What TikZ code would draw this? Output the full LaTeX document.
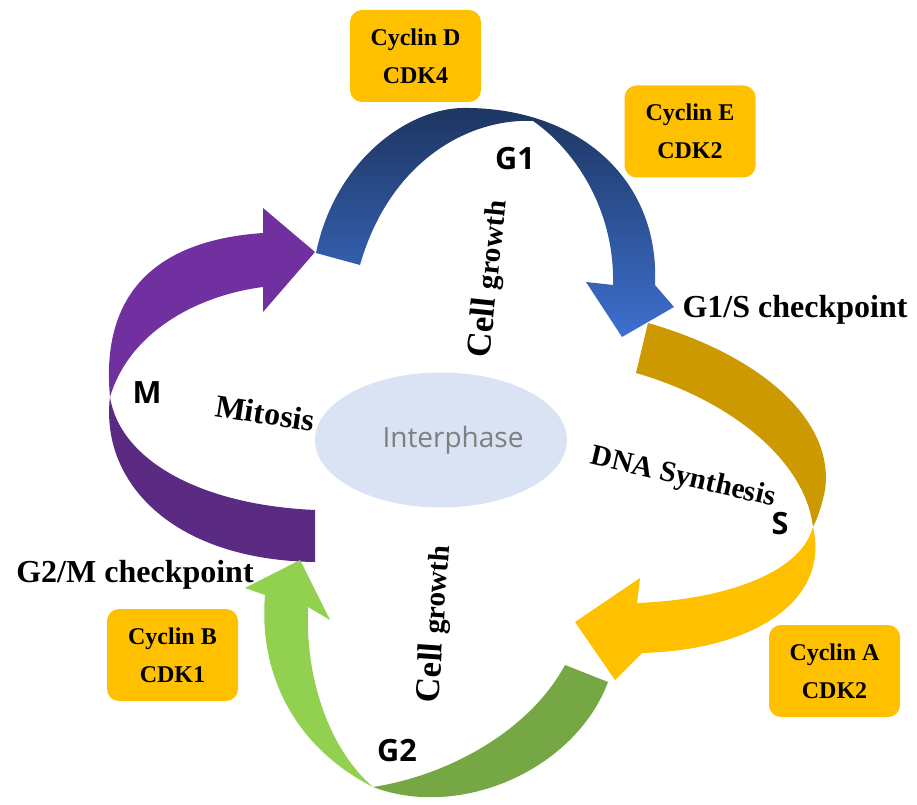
\documentclass[tikz,border=0pt]{standalone}
\usepackage{fontspec}
\setmainfont{Liberation Serif}
\newfontfamily\osans{Open Sans}
\usetikzlibrary{shapes.geometric}
\definecolor{cycfill}{HTML}{FFC000}
\definecolor{purpleA}{HTML}{7030A0}
\definecolor{purpleB}{HTML}{5B2A82}
\definecolor{blueTop}{HTML}{1D3560}
\definecolor{blueBot}{HTML}{3E70CF}
\definecolor{goldA}{HTML}{CC9900}
\definecolor{goldB}{HTML}{FFC000}
\definecolor{greenA}{HTML}{92D050}
\definecolor{greenB}{HTML}{75A844}
\definecolor{ellfill}{HTML}{DAE3F3}
\definecolor{intertext}{HTML}{7F7F7F}
\begin{document}
\begin{tikzpicture}[x=0.75pt,y=-0.75pt,
  cycbox/.style={fill=cycfill, rounded corners=9pt, minimum width=98.25pt, minimum height=69pt, align=center, inner sep=0pt, font=\bfseries\fontsize{18}{28.5}\selectfont},
  phase/.style={font=\osans\bfseries\fontsize{23}{26}\selectfont, inner sep=0pt},
  serlab/.style={font=\bfseries\fontsize{24}{28}\selectfont, inner sep=0pt}]
\useasboundingbox (0,0) rectangle (917,805);
% Interphase ellipse
\node[ellipse, fill=ellfill, minimum width=189pt, minimum height=101.25pt] (ell) at (441,440) {};
\node[font=\osans\fontsize{21}{24}\selectfont, text=intertext, inner sep=0pt] (inter) at (453,440) {Interphase};
% purple M arrow
\fill[purpleA] (110,397) .. controls (100,290) and (160,240) .. (263,233) -- (263,208) -- (315,252) -- (263,312) -- (263,287) .. controls (200,295) and (130,330) .. (110,397) -- cycle;
\fill[purpleB] (110,397) .. controls (120,460) and (200,505) .. (315,510) -- (315,562) .. controls (170,560) and (100,480) .. (110,397) -- cycle;
% blue G1 arrow
\shade[top color=blueTop, bottom color=blueBot] (316,253) .. controls (335,160) and (410,105) .. (470,108) .. controls (580,110) and (660,180) .. (655,285) -- (674,307) -- (622,337) -- (586,282) -- (613,285) .. controls (615,210) and (575,150) .. (533,121) .. controls (470,118) and (390,160) .. (360,265) -- cycle;
% gold S arrow
\fill[goldA] (648,323) .. controls (760,355) and (835,420) .. (825,490) .. controls (822,505) and (818,517) .. (813,527) .. controls (805,460) and (730,400) .. (636,373) -- cycle;
\fill[goldB] (813,527) .. controls (830,600) and (755,650) .. (642,653) -- (615,680) -- (575,622) -- (640,578) -- (637,603) .. controls (720,600) and (800,575) .. (813,527) -- cycle;
% green G2 arrow
\fill[greenB] (608,682) .. controls (575,770) and (460,820) .. (373,787) .. controls (450,775) and (530,730) .. (565,665) -- cycle;
\fill[greenA] (373,787) .. controls (300,750) and (258,680) .. (265,595) -- (245,588) -- (300,560) -- (330,620) -- (308,607) .. controls (305,680) and (330,750) .. (373,787) -- cycle;
% phase labels
\node[phase] (g1) at (515,159) {G1};
\node[phase] (s) at (780,524) {S};
\node[phase] (g2) at (397,751) {G2};
\node[phase] (m) at (147,393) {M};
% checkpoint labels
\node[serlab, anchor=base] (g1s) at (795,318) {G1/S checkpoint};
\node[serlab, anchor=base] (g2m) at (135,582) {G2/M checkpoint};
% process labels
\node[serlab, rotate=-9] (mit) at (265,413) {Mitosis};
\node[font=\bfseries\fontsize{22}{26}\selectfont, inner sep=0pt, rotate=-13] (dna) at (683,478) {DNA Synthesis};
\node[inner sep=0pt, rotate=84] (cg1) at (489,279) {\bfseries\fontsize{26}{30}\selectfont Cell \fontsize{22}{26}\selectfont growth};
\node[inner sep=0pt, rotate=86] (cg2) at (435,624) {\bfseries\fontsize{26}{30}\selectfont Cell \fontsize{22}{26}\selectfont growth};
% cyclin boxes
\node[cycbox] (cycD) at (415.5,56) {Cyclin D\\CDK4};
\node[cycbox] (cycE) at (690,131.5) {Cyclin E\\CDK2};
\node[cycbox] (cycB) at (172.5,655) {Cyclin B\\CDK1};
\node[cycbox] (cycA) at (834.5,671) {Cyclin A\\CDK2};
\end{tikzpicture}
\end{document}
